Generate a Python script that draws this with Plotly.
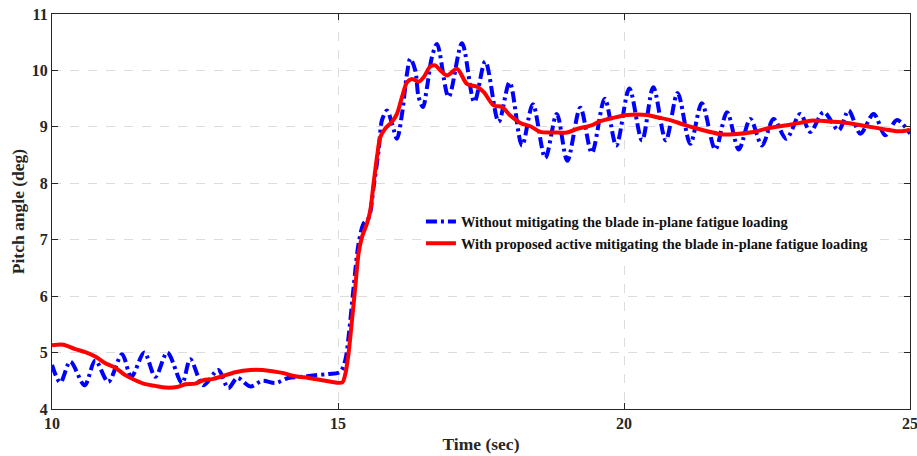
import plotly.graph_objects as go

# Blue: without mitigation (dash-dot)
blue_t = [10.0, 10.145, 10.320, 10.570, 10.757, 10.984, 11.224, 11.386, 11.614, 11.806,
          12.016, 12.273, 12.418, 12.645, 12.907, 13.082, 13.240, 13.467, 13.677, 13.904,
          14.131, 14.376, 14.603, 14.830, 15.040, 15.128, 15.185, 15.273, 15.360, 15.448,
          15.535, 15.622, 15.710, 15.769, 15.857, 15.944, 16.031, 16.119, 16.206, 16.264,
          16.351, 16.409, 16.486, 16.556, 16.643, 16.731, 16.934, 17.168, 17.383, 17.575,
          17.808, 18.000, 18.217, 18.406, 18.624, 18.825, 19.009, 19.236, 19.437, 19.664,
          19.865, 20.093, 20.315, 20.512, 20.731, 20.937, 21.159, 21.360, 21.596, 21.801,
          22.007, 22.208, 22.413, 22.615, 22.837, 23.082, 23.257, 23.490, 23.752, 23.927,
          24.131, 24.364, 24.568, 24.773, 25.0]
blue_v = [4.78, 4.47, 4.84, 4.42, 4.86, 4.48, 4.97, 4.57, 5.00, 4.57,
          5.00, 4.46, 4.88, 4.42, 4.69, 4.37, 4.55, 4.40, 4.50, 4.46,
          4.55, 4.57, 4.60, 4.62, 4.66, 4.87, 5.28, 6.16, 6.93, 7.29,
          7.38, 7.93, 8.58, 9.12, 9.29, 9.06, 8.79, 9.23, 9.94, 10.21,
          10.00, 9.53, 9.35, 9.70, 10.24, 10.47, 9.53, 10.48, 9.44, 10.16,
          9.09, 9.79, 8.67, 9.40, 8.45, 9.23, 8.40, 9.34, 8.54, 9.50,
          8.67, 9.68, 8.76, 9.70, 8.76, 9.60, 8.70, 9.42, 8.60, 9.26,
          8.60, 9.14, 8.67, 9.14, 8.79, 9.23, 8.91, 9.26, 8.94, 9.29,
          8.88, 9.23, 8.85, 9.12, 8.88]

# Red: with proposed active mitigation (solid)
red_t = [10.0, 10.198, 10.407, 10.582, 10.757, 10.932, 11.107, 11.281, 11.456, 11.631,
         11.806, 11.981, 12.185, 12.330, 12.505, 12.645, 12.802, 12.977, 13.204, 13.467,
         13.677, 13.852, 14.026, 14.253, 14.481, 14.725, 14.953, 15.075, 15.128, 15.185,
         15.245, 15.302, 15.360, 15.420, 15.507, 15.565, 15.622, 15.682, 15.740, 15.827,
         15.944, 16.031, 16.119, 16.206, 16.294, 16.409, 16.497, 16.614, 16.701, 16.789,
         16.906, 17.080, 17.255, 17.430, 17.545, 17.720, 17.867, 18.012, 18.187, 18.362,
         18.537, 18.764, 19.003, 19.201, 19.411, 19.586, 19.813, 20.052, 20.402, 20.577,
         20.810, 21.042, 21.276, 21.509, 21.684, 21.911, 22.261, 22.500, 22.850, 23.082,
         23.257, 23.549, 23.899, 24.248, 24.598, 24.830, 25.0]
red_v = [5.13, 5.14, 5.06, 5.01, 4.93, 4.81, 4.73, 4.60, 4.51, 4.44,
         4.41, 4.38, 4.39, 4.44, 4.45, 4.51, 4.53, 4.58, 4.65, 4.69,
         4.69, 4.67, 4.64, 4.58, 4.55, 4.51, 4.47, 4.47, 4.62, 4.99,
         5.58, 6.16, 6.76, 7.05, 7.29, 7.52, 8.00, 8.47, 8.82, 8.97,
         9.09, 9.23, 9.53, 9.79, 9.85, 9.80, 9.88, 10.07, 10.09, 10.00,
         9.91, 10.03, 9.76, 9.71, 9.62, 9.38, 9.35, 9.20, 9.07, 9.01,
         8.91, 8.90, 8.90, 8.97, 9.02, 9.10, 9.16, 9.21, 9.21, 9.17,
         9.12, 9.04, 8.97, 8.91, 8.87, 8.87, 8.91, 8.97, 9.03, 9.07,
         9.11, 9.10, 9.07, 9.01, 8.95, 8.92, 8.95]

x_ticks = [10, 15, 20, 25]
y_ticks = [4, 5, 6, 7, 8, 9, 10, 11]

names = ["Without mitigating the blade in-plane fatigue loading",
         "With proposed active mitigating the blade in-plane fatigue loading"]

FONT = "Liberation Serif"
INK = "#262626"

fig = go.Figure()
fig.add_trace(go.Scatter(x=blue_t, y=blue_v, mode="lines", name=names[0],
                         line=dict(color="#0000ff", width=4, dash="11px,4px,3px,4px",
                                   shape="spline", smoothing=0.9)))
fig.add_trace(go.Scatter(x=red_t, y=red_v, mode="lines", name=names[1],
                         line=dict(color="#ff0000", width=4, shape="spline", smoothing=0.8)))

axis_common = dict(
    showline=True, linecolor=INK, linewidth=1.2, mirror="ticks",
    ticks="inside", ticklen=6, tickcolor=INK, tickwidth=1,
    showgrid=True, gridcolor="#dcdcdc", griddash="dash", gridwidth=1,
    zeroline=False, automargin=False, ticklabeloverflow="allow",
    tickfont=dict(family=FONT, size=16, color=INK, weight="bold"),
)

fig.update_xaxes(range=[10, 25], tickvals=x_ticks, ticktext=[str(v) for v in x_ticks],
                 title=dict(text="<b>Time (sec)</b>", font=dict(family=FONT, size=17.5, color=INK),
                            standoff=6),
                 **axis_common)
fig.update_yaxes(range=[4, 11], tickvals=y_ticks, ticktext=[str(v) for v in y_ticks],
                 title=dict(text="<b>Pitch angle (deg)</b>", font=dict(family=FONT, size=17.5, color=INK),
                            standoff=2),
                 **axis_common)

fig.update_layout(
    width=917, height=456,
    margin=dict(l=52, r=7, t=14, b=47),
    paper_bgcolor="white", plot_bgcolor="white",
    font=dict(family=FONT, color=INK),
    showlegend=True,
    legend=dict(x=0.43, y=0.515, xanchor="left", yanchor="top",
                bgcolor="white", borderwidth=0, itemwidth=30,
                font=dict(family=FONT, size=14.4, color="#111111", weight="bold"),
                tracegroupgap=0),
)

fig.write_html("out.html")
